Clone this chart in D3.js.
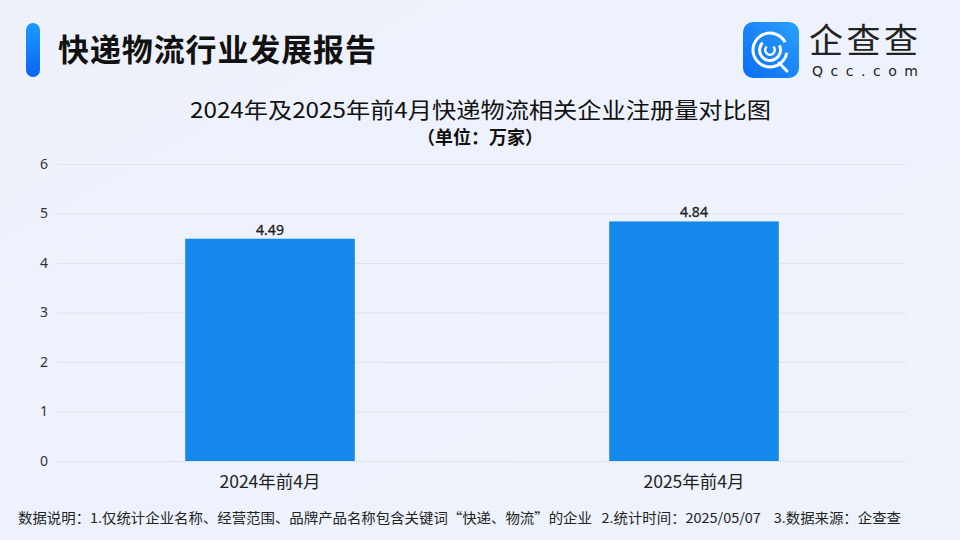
<!DOCTYPE html>
<html>
<head>
<meta charset="utf-8">
<script src="https://cdn.jsdelivr.net/npm/d3@7"></script>
<style>
  body { margin: 0; background: #eef2fb; }
  svg { display: block; font-family: "Noto Sans CJK SC", "Noto Sans", sans-serif; }
</style>
</head>
<body>
<svg id="chart"></svg>
<script>
var width = 960,
    height = 540

var categories = ["2024年前4月", "2025年前4月"]
var values = [4.49, 4.84]
var yTicks = [0, 1, 2, 3, 4, 5, 6]

var margin = {left: 58, right: 54, top: 164, bottom: 79}

var svg = d3.select("svg#chart")
    .attr("width", width)
    .attr("height", height)

var defs = svg.append("defs")
var bg = defs.append("linearGradient").attr("id", "bg")
    .attr("x1", "0").attr("y1", "0").attr("x2", "1").attr("y2", "1")
bg.append("stop").attr("offset", "0").attr("stop-color", "#eef1fa")
bg.append("stop").attr("offset", "0.5").attr("stop-color", "#edf2fc")
bg.append("stop").attr("offset", "1").attr("stop-color", "#eef3fb")

var barGrad = defs.append("linearGradient").attr("id", "accent")
    .attr("x1", "0").attr("y1", "0").attr("x2", "0").attr("y2", "1")
barGrad.append("stop").attr("offset", "0").attr("stop-color", "#1a9bff")
barGrad.append("stop").attr("offset", "1").attr("stop-color", "#0a64f0")

var logoGrad = defs.append("linearGradient").attr("id", "logo")
    .attr("x1", "1").attr("y1", "0").attr("x2", "0").attr("y2", "1")
logoGrad.append("stop").attr("offset", "0").attr("stop-color", "#2aa0ff")
logoGrad.append("stop").attr("offset", "1").attr("stop-color", "#0a6cf5")

svg.append("rect").attr("width", width).attr("height", height).attr("fill", "url(#bg)")

// header
svg.append("rect")
    .attr("x", 26).attr("y", 23).attr("width", 14).attr("height", 54)
    .attr("rx", 7).attr("fill", "url(#accent)")

svg.append("text")
    .attr("x", 58).attr("y", 61)
    .attr("font-size", 31).attr("font-weight", "bold").attr("fill", "#111")
    .attr("textLength", 318).attr("lengthAdjust", "spacing")
    .text("快递物流行业发展报告")

// logo
var logo = svg.append("g").attr("transform", "translate(743,22)")
logo.append("rect").attr("width", 56).attr("height", 56).attr("rx", 10).attr("fill", "url(#logo)")
var arcGen = d3.arc()
logo.append("path")
    .attr("transform", "translate(27,28)")
    .attr("d", arcGen({innerRadius: 15.5, outerRadius: 18.5, startAngle: 0.55 * Math.PI, endAngle: 2.35 * Math.PI}))
    .attr("fill", "#fff")
logo.append("path")
    .attr("transform", "translate(27,28)")
    .attr("d", arcGen({innerRadius: 9, outerRadius: 12, startAngle: 0.35 * Math.PI, endAngle: 1.75 * Math.PI}))
    .attr("fill", "#fff")
logo.append("path")
    .attr("transform", "translate(27,28)")
    .attr("d", arcGen({innerRadius: 3.5, outerRadius: 6, startAngle: 0.25 * Math.PI, endAngle: 1.75 * Math.PI}))
    .attr("fill", "#fff")
logo.append("line")
    .attr("x1", 36).attr("y1", 41).attr("x2", 44).attr("y2", 49)
    .attr("stroke", "#fff").attr("stroke-width", 3).attr("stroke-linecap", "round")

svg.append("text")
    .attr("x", 809).attr("y", 53)
    .attr("font-size", 34).attr("fill", "#222")
    .attr("textLength", 109).attr("lengthAdjust", "spacing")
    .text("企查查")
svg.append("text")
    .attr("x", 812).attr("y", 76)
    .attr("font-size", 14).attr("fill", "#222")
    .attr("font-family", "DejaVu Sans")
    .attr("textLength", 106).attr("lengthAdjust", "spacing")
    .text("Qcc.com")

// chart titles
svg.append("text")
    .attr("x", 190).attr("y", 118)
    .attr("font-size", 22).attr("fill", "#111")
    .attr("textLength", 581).attr("lengthAdjust", "spacingAndGlyphs")
    .text("2024年及2025年前4月快递物流相关企业注册量对比图")
svg.append("text")
    .attr("x", 480).attr("y", 144).attr("text-anchor", "middle")
    .attr("font-size", 18).attr("font-weight", "bold").attr("fill", "#111")
    .text("（单位：万家）")

// scales
var x = d3.scaleBand()
    .domain(categories)
    .range([margin.left, width - margin.right])
    .paddingInner(0.6)
    .paddingOuter(0.3)

var y = d3.scaleLinear()
    .domain([0, 6])
    .range([height - margin.bottom, margin.top])

// grid
svg.append("g").selectAll("line")
    .data(yTicks)
    .enter().append("line")
    .attr("x1", margin.left).attr("x2", width - margin.right)
    .attr("y1", function(d) { return y(d) + 0.5 })
    .attr("y2", function(d) { return y(d) + 0.5 })
    .attr("stroke", "#dfe3ea").attr("stroke-width", 1)

var yAxis = svg.append("g")
    .attr("transform", "translate(" + (margin.left - 10) + ",0)")
    .call(d3.axisLeft(y).tickValues(yTicks).tickSize(0).tickPadding(0).tickFormat(d3.format("d")))
yAxis.select(".domain").remove()
yAxis.selectAll("text")
    .attr("font-size", 14).attr("fill", "#333")
    .attr("font-family", "Noto Sans, sans-serif")

var xAxis = svg.append("g")
    .attr("transform", "translate(0," + (height - margin.bottom) + ")")
    .call(d3.axisBottom(x).tickSize(0).tickPadding(15))
xAxis.select(".domain").remove()
xAxis.selectAll("text")
    .attr("font-size", 17.5).attr("fill", "#222")
    .attr("font-family", "Noto Sans CJK SC, sans-serif")

// bars
var bars = svg.append("g").selectAll("g")
    .data(values)
    .enter().append("g")

bars.append("rect")
    .attr("x", function(d, i) { return x(categories[i]) })
    .attr("y", function(d) { return y(d) })
    .attr("width", x.bandwidth())
    .attr("height", function(d) { return y(0) - y(d) })
    .attr("fill", "#1589eb")

bars.append("text")
    .attr("x", function(d, i) { return x(categories[i]) + x.bandwidth() / 2 })
    .attr("y", function(d) { return y(d) - 4 })
    .attr("text-anchor", "middle")
    .attr("font-size", 14).attr("fill", "#222")
    .attr("font-family", "Noto Sans, sans-serif")
    .attr("stroke", "#222").attr("stroke-width", 0.3)
    .text(function(d) { return d3.format(".2f")(d) })

// footer
svg.append("text")
    .attr("x", 18).attr("y", 523)
    .attr("font-size", 13.5).attr("fill", "#222")
    .attr("xml:space", "preserve").style("white-space", "pre")
    .attr("textLength", 883).attr("lengthAdjust", "spacingAndGlyphs")
    .text("数据说明：1.仅统计企业名称、经营范围、品牌产品名称包含关键词“快递、物流”的企业   2.统计时间：2025/05/07    3.数据来源：企查查")
</script>
</body>
</html>
